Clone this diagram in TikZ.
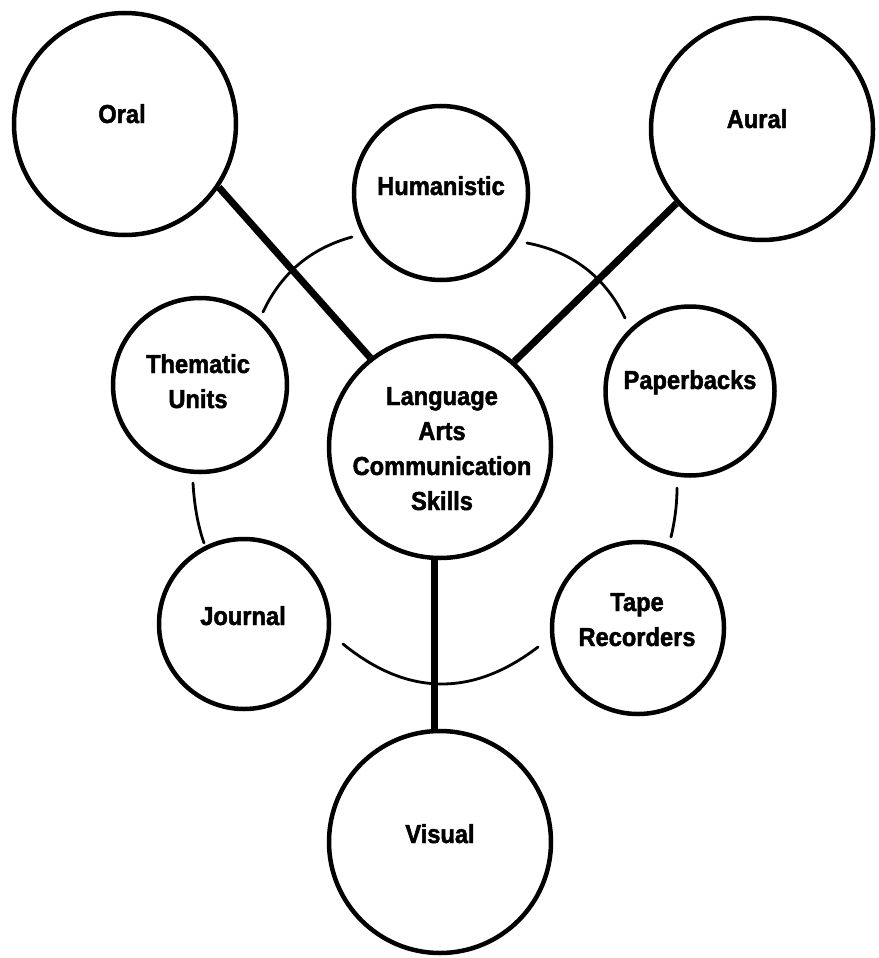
\documentclass[tikz,border=0pt]{standalone}
\usepackage{fontspec}
\newfontfamily\labfont{Liberation Sans}[FakeStretch=0.91,FakeBold=1.8]
\newcommand\mylines[1]{\begin{tabular}[t]{@{}c@{}}#1\end{tabular}}
\begin{document}
\begin{tikzpicture}[x=1pt,y=-1pt,
  bub/.style={circle,draw,line width=4.5pt,inner sep=0pt},
  lab/.style={font=\labfont\bfseries\fontsize{26}{35}\selectfont,anchor=base,inner sep=0pt},
  spoke/.style={line width=7pt},
  ring/.style={line width=2.8pt,line cap=round}]
\useasboundingbox[fill=white] (0,0) rectangle (878,958);
% circles
\node[bub,minimum size=222pt] (oral) at (125,124) {};
\node[bub,minimum size=222pt] (aural) at (762,129) {};
\node[bub,minimum size=174pt] (hum) at (441,193) {};
\node[bub,minimum size=174pt] (them) at (200,385) {};
\node[bub,minimum size=222pt] (center) at (440,447) {};
\node[bub,minimum size=169pt] (pap) at (690,391) {};
\node[bub,minimum size=170pt] (jour) at (244,624) {};
\node[bub,minimum size=172pt] (tape) at (638,628) {};
\node[bub,minimum size=222pt] (visual) at (440,842) {};
% labels
\node[lab] (oralT) at (122,123) {Oral};
\node[lab] (auralT) at (757,128) {Aural};
\node[lab] (humT) at (441,195) {Humanistic};
\node[lab] (themT) at (198,373) {\mylines{Thematic\\Units}};
\node[lab] (papT) at (690,389) {Paperbacks};
\node[lab] (centT) at (442,405) {\mylines{Language\\Arts\\Communication\\Skills}};
\node[lab] (jourT) at (243,625) {Journal};
\node[lab] (tapeT) at (637,611) {\mylines{Tape\\Recorders}};
\node[lab] (visT) at (440,843) {Visual};
% spokes
\draw[spoke] (oral.-34.5) -- (center.128.2);
\draw[spoke] (aural.-139.6) -- (center.49.5);
\draw[spoke] (center.-93.5) -- (visual.93.5);
% ring arcs
\coordinate (a1) at (352,237); \coordinate (b1) at (263,312);
\coordinate (a2) at (527,243); \coordinate (b2) at (625,318);
\coordinate (a3) at (193,483); \coordinate (b3) at (204,543);
\coordinate (a4) at (677,488); \coordinate (b4) at (671,537);
\coordinate (a5) at (343,644); \coordinate (b5) at (538,647);
\draw[ring] (a1) .. controls (310.7,248.3) and (281.1,273.3) .. (b1);
\draw[ring] (a2) .. controls (572.2,251.6) and (604.9,276.6) .. (b2);
\draw[ring] (a3) .. controls (194.3,505.7) and (197.9,525.7) .. (b3);
\draw[ring] (a4) .. controls (677,503.7) and (675,520) .. (b4);
\draw[ring] (a5) .. controls (407.3,696.3) and (472.3,697.3) .. (b5);
\end{tikzpicture}
\end{document}
